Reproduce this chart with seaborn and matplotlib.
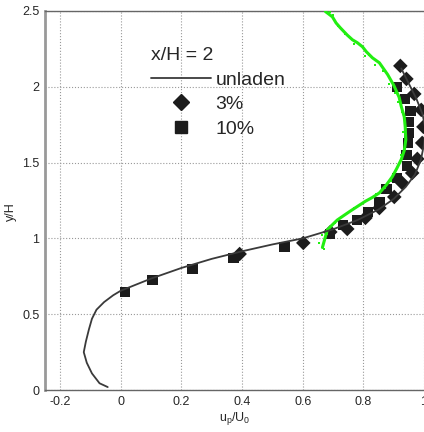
import numpy as np
import pandas as pd
import matplotlib
matplotlib.use('Agg')
import matplotlib.pyplot as plt
import seaborn as sns
from matplotlib.lines import Line2D

# unladen profile
unl_x = [-0.043, -0.07, -0.095, -0.112, -0.122, -0.115, -0.105, -0.095, -0.08, -0.055, -0.025, 0.0,
         0.1, 0.2, 0.3, 0.4, 0.5, 0.6, 0.7, 0.78, 0.85, 0.9, 0.94, 0.97, 0.99, 1.0,
         1.005, 0.995, 0.975, 0.95, 0.925]
unl_y = [0.02, 0.045, 0.11, 0.18, 0.25, 0.32, 0.4, 0.47, 0.53, 0.58, 0.625, 0.655,
         0.735, 0.805, 0.865, 0.915, 0.96, 1.0, 1.06, 1.12, 1.19, 1.26, 1.34, 1.42, 1.52, 1.62,
         1.72, 1.82, 1.92, 2.02, 2.12]

# 3 % loading (diamonds)
d3_x = [0.392, 0.602, 0.691, 0.747, 0.807, 0.853, 0.902, 0.928, 0.961, 0.978, 0.994, 0.998,
        0.991, 0.968, 0.942, 0.922]
d3_y = [0.897, 0.970, 1.042, 1.062, 1.135, 1.200, 1.273, 1.365, 1.431, 1.524, 1.629, 1.735,
        1.847, 1.952, 2.051, 2.137]

# 10 % loading (squares)
s10_x = [0.013, 0.105, 0.237, 0.372, 0.540, 0.691, 0.734, 0.780, 0.816, 0.853, 0.876, 0.912,
         0.945, 0.942, 0.948, 0.951, 0.951, 0.955, 0.938, 0.912]
s10_y = [0.646, 0.726, 0.798, 0.871, 0.943, 1.030, 1.088, 1.121, 1.174, 1.240, 1.326, 1.398,
         1.478, 1.550, 1.629, 1.695, 1.768, 1.840, 1.920, 1.999]

# green particle cloud
g_x = [0.665, 0.672, 0.681, 0.698, 0.714, 0.735, 0.757, 0.780, 0.807, 0.830, 0.853, 0.875,
       0.895, 0.910, 0.925, 0.935, 0.940, 0.938, 0.935, 0.925, 0.918, 0.900, 0.880, 0.853,
       0.830, 0.810, 0.797, 0.780, 0.764, 0.747, 0.735, 0.724, 0.710, 0.698, 0.685, 0.675]
g_y = [0.94, 0.99, 1.055, 1.09, 1.121, 1.15, 1.18, 1.21, 1.245, 1.27, 1.30, 1.35,
       1.405, 1.46, 1.52, 1.58, 1.65, 1.735, 1.80, 1.87, 1.93, 2.01, 2.08, 2.157,
       2.19, 2.23, 2.263, 2.29, 2.309, 2.34, 2.365, 2.388, 2.42, 2.46, 2.48, 2.495]
gs_x = [0.655, 0.670, 0.662, 0.680, 0.693, 0.705, 0.725, 0.745, 0.770, 0.790, 0.820, 0.842,
        0.872, 0.890, 0.905, 0.925, 0.930, 0.928, 0.915, 0.905, 0.885, 0.865, 0.840, 0.818,
        0.805, 0.770, 0.752, 0.738, 0.718, 0.702, 0.690, 0.700]
gs_y = [0.97, 0.93, 1.02, 1.03, 1.08, 1.10, 1.14, 1.17, 1.20, 1.22, 1.26, 1.29,
        1.33, 1.38, 1.44, 1.55, 1.70, 1.83, 1.90, 1.96, 2.02, 2.10, 2.14, 2.21,
        2.20, 2.28, 2.33, 2.35, 2.40, 2.44, 2.49, 2.47]

df_u = pd.DataFrame({'x': unl_x, 'y': unl_y})
df_d = pd.DataFrame({'x': d3_x, 'y': d3_y})
df_s = pd.DataFrame({'x': s10_x, 'y': s10_y})

sns.set_style('white')
plt.rcParams['font.family'] = ['Liberation Sans', 'DejaVu Sans']

fig = plt.figure(figsize=(4.24, 4.32), dpi=100)
ax = fig.add_axes([0.106, 0.097, 0.894, 0.878])

ax.plot(gs_x, gs_y, 's', color='#22ee11', ms=1.6, mew=0, zorder=4)
ax.plot(g_x, g_y, '-', color='#22ee11', lw=2.2, zorder=4)
sns.scatterplot(data=df_s, x='x', y='y', marker='s', s=55, color='#1c1c1c', edgecolor='none', ax=ax, zorder=3)
sns.scatterplot(data=df_d, x='x', y='y', marker='D', s=55, color='#1c1c1c', edgecolor='none', ax=ax, zorder=3)
sns.lineplot(data=df_u, x='x', y='y', sort=False, estimator=None, color='#3a3a3a', lw=1.3, ax=ax, zorder=5)

ax.set_xlim(-0.25, 1.0)
ax.set_ylim(0, 2.5)
ax.set_xticks([-0.2, 0, 0.2, 0.4, 0.6, 0.8, 1.0])
ax.set_xticklabels(['-0.2', '0', '0.2', '0.4', '0.6', '0.8', '1'])
ax.set_yticks([0, 0.5, 1, 1.5, 2, 2.5])
ax.set_yticklabels(['0', '0.5', '1', '1.5', '2', '2.5'])
ax.grid(True, linestyle=':', color='#999999', lw=0.8)
ax.tick_params(direction='in', length=3, labelsize=9, color='#555555', pad=4)
for sp in ax.spines.values():
    sp.set_color('#666666')
    sp.set_linewidth(1.0)
ax.spines['left'].set_color('#999999')
ax.spines['left'].set_linewidth(2.0)
ax.spines['right'].set_visible(False)

ax.set_xlabel(r'u$_\mathregular{p}$/U$_\mathregular{0}$', fontsize=9, labelpad=2)
ax.set_ylabel('y/H', fontsize=9)
ax.yaxis.set_label_coords(-0.075, 0.47)

handles = [Line2D([], [], color='#3a3a3a', lw=1.3),
           Line2D([], [], marker='D', ls='', color='#1c1c1c', ms=8.5),
           Line2D([], [], marker='s', ls='', color='#1c1c1c', ms=8)]
leg = ax.legend(handles, ['unladen', '3%', '10%'], title='x/H = 2', frameon=False,
                fontsize=14, title_fontsize=14, loc='upper left',
                bbox_to_anchor=(0.258, 0.925), handlelength=3.1, labelspacing=0.36,
                handletextpad=0.25, borderaxespad=0)
leg._legend_box.align = 'left'

fig.savefig('out.png', dpi=100)
